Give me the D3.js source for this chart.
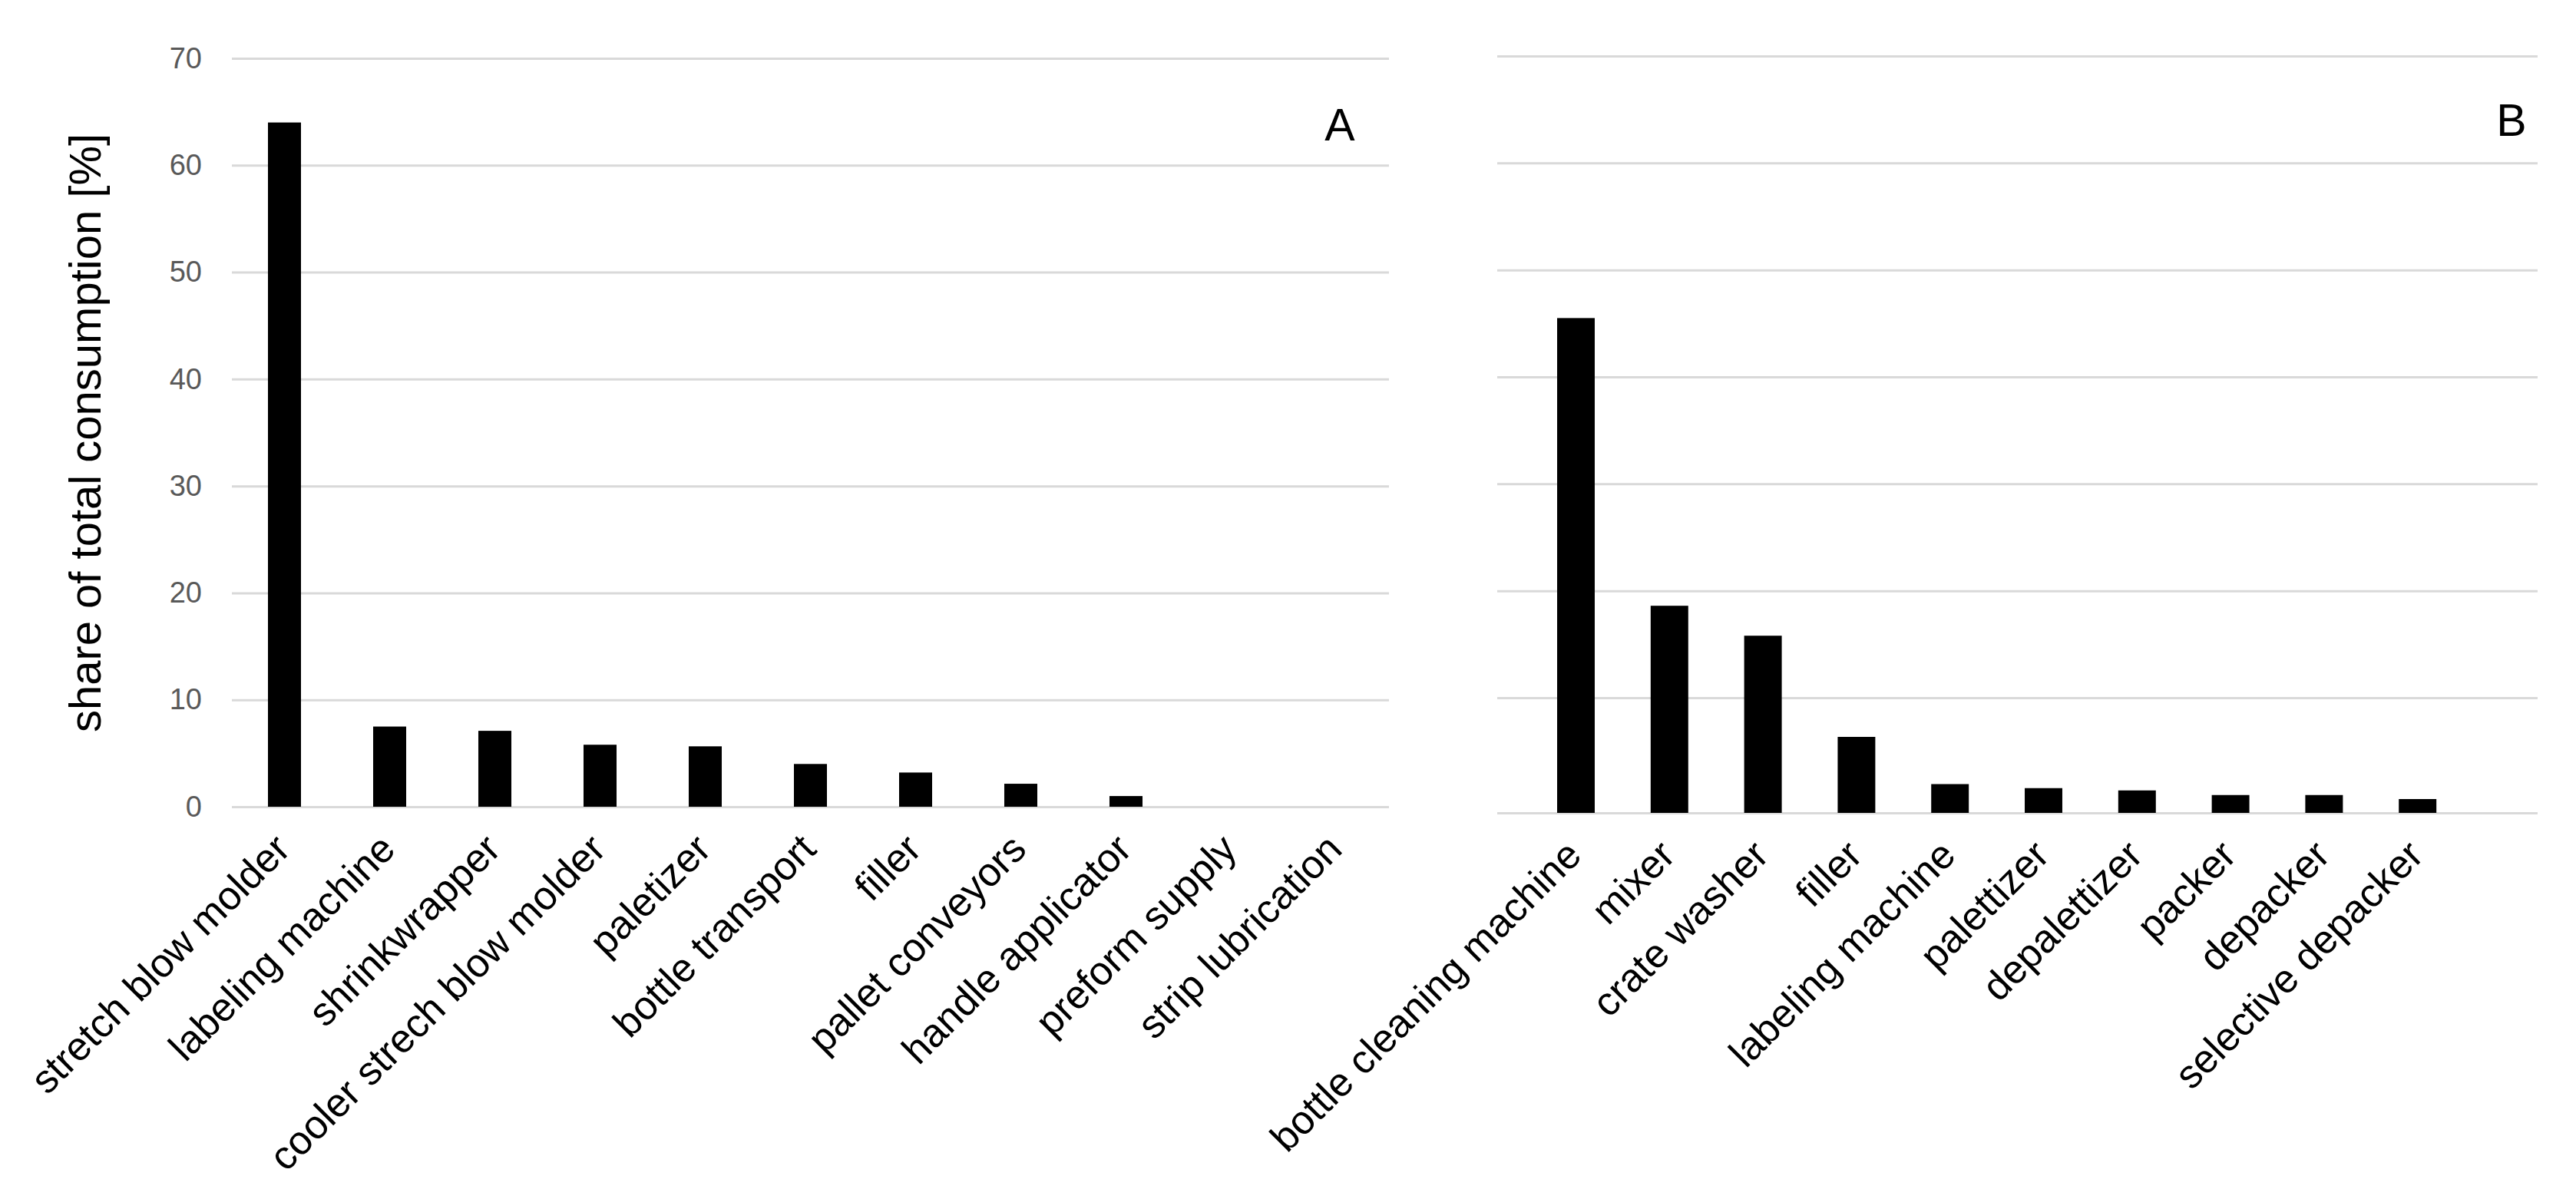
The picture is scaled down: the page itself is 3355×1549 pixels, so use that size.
<!DOCTYPE html>
<html>
<head>
<meta charset="utf-8">
<script src="https://cdn.jsdelivr.net/npm/d3@7"></script>
<style>
html, body { margin: 0; padding: 0; background: #ffffff; }
svg { display: block; }
</style>
</head>
<body>
<script>
// ---- data ----
const categoriesA = ["stretch blow molder", "labeling machine", "shrinkwrapper", "cooler strech blow molder",
  "paletizer", "bottle transport", "filler", "pallet conveyors", "handle applicator", "preform supply", "strip lubrication"];
const valuesA = [64.0, 7.5, 7.1, 5.8, 5.65, 4.0, 3.2, 2.15, 1.0, 0, 0];

const categoriesB = ["bottle cleaning machine", "mixer", "crate washer", "filler", "labeling machine",
  "palettizer", "depalettizer", "packer", "depacker", "selective depacker"];
const valuesB = [45.5, 18.6, 15.8, 6.6, 2.5, 2.15, 1.95, 1.55, 1.55, 1.2];

const yTicks = [0, 10, 20, 30, 40, 50, 60, 70];
const yTitle = "share of total consumption [%]";
const panelLabels = ["A", "B"];

// ---- drawing ----
const W = 3355, H = 1549;
const svg = d3.select("body").append("svg").attr("width", W).attr("height", H);
svg.append("rect").attr("width", W).attr("height", H).attr("fill", "#ffffff");

const labelFont = "'Liberation Sans', Arial, sans-serif";
const tickFont = "'Liberation Sans Narrow', 'Liberation Sans', Arial, sans-serif";

function panel(cfg) {
  const g = svg.append("g");
  const y = d3.scaleLinear().domain(cfg.yDomain).range(cfg.yRange);
  const x = d3.scaleBand().domain(cfg.cats).range(cfg.xRange)
    .paddingInner(cfg.padIn).paddingOuter(cfg.padIn / 2);

  // gridlines via axis
  const grid = g.append("g").attr("transform", `translate(${cfg.gridX0},0)`)
    .call(d3.axisLeft(y).tickValues(yTicks).tickSize(-(cfg.gridX1 - cfg.gridX0)).tickFormat(""));
  grid.select(".domain").remove();
  grid.selectAll(".tick line").attr("stroke", "#d9d9d9").attr("stroke-width", 3);

  if (cfg.showTicks) {
    const ax = g.append("g").attr("transform", `translate(${cfg.gridX0 - 39},0)`)
      .call(d3.axisLeft(y).tickValues(yTicks).tickSize(0).tickPadding(0));
    ax.select(".domain").remove();
    ax.selectAll(".tick text").attr("fill", "#595959")
      .style("font-family", tickFont).style("font-size", "38px");
  }

  // bars
  g.selectAll("rect.bar").data(cfg.vals).join("rect")
    .attr("class", "bar")
    .attr("x", (d, i) => x(cfg.cats[i]))
    .attr("width", x.bandwidth())
    .attr("y", d => y(d))
    .attr("height", d => y(0) - y(d))
    .attr("fill", "#000000");

  // category labels
  g.selectAll("text.cat").data(cfg.cats).join("text")
    .attr("class", "cat")
    .attr("transform", d => `translate(${x(d) + x.bandwidth() / 2 + 10},${y(0) + 58}) rotate(-45)`)
    .attr("text-anchor", "end")
    .style("font-family", labelFont).style("font-size", "52px").attr("fill", "#000")
    .text(d => d);

  // panel label
  g.append("text").attr("x", cfg.labelPos[0]).attr("y", cfg.labelPos[1])
    .attr("text-anchor", "middle")
    .style("font-family", labelFont).style("font-size", "59px").attr("fill", "#000")
    .text(cfg.label);
}

panel({
  cats: categoriesA, vals: valuesA,
  yDomain: [0, 70], yRange: [1051, 76],
  xRange: [302, 1809], padIn: 0.686,
  gridX0: 302, gridX1: 1809, showTicks: true,
  label: panelLabels[0], labelPos: [1745, 183]
});

panel({
  cats: categoriesB, vals: valuesB,
  yDomain: [0, 10, 70], yRange: [1059, 909, 73],
  xRange: [1991.6, 3209.6], padIn: 0.598,
  gridX0: 1950, gridX1: 3305, showTicks: false,
  label: panelLabels[1], labelPos: [3271, 177]
});

// y-axis title
svg.append("text")
  .attr("transform", "translate(131,564) rotate(-90)")
  .attr("text-anchor", "middle")
  .style("font-family", labelFont).style("font-size", "58px").attr("fill", "#000")
  .text(yTitle);
</script>
</body>
</html>
